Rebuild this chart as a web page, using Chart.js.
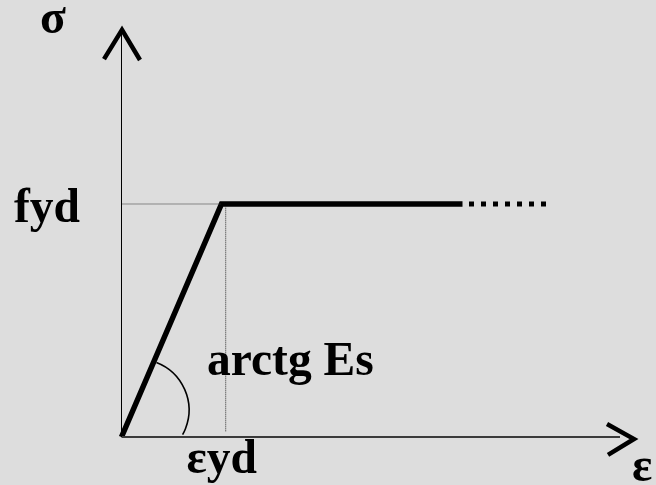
<!DOCTYPE html>
<html>
<head>
<meta charset="utf-8">
<script src="https://cdn.jsdelivr.net/npm/chart.js@4/dist/chart.umd.min.js"></script>
<style>
html,body{margin:0;padding:0;background:#dddddd;}
canvas{display:block;}
</style>
</head>
<body>
<canvas id="c" width="656" height="485"></canvas>
<script>
// Elastic-perfectly-plastic steel diagram (units: εyd = 1, fyd = 1)
const strain = [0, 1, 3.41];          // ε values of solid curve
const stress = [0, 1, 1];             // σ values of solid curve
const plateauDotted = [3.475, 4.245]; // ε range of dotted continuation (σ = fyd)
const epsYd = 1, fyd = 1;
const guideEps = 1.042;
const labels = { sigma: 'σ', eps: 'ε', fyd: 'fyd', epsYd: 'εyd', slope: 'arctg Es' };

const xAxisEnd = 4.985, yAxisEnd = 1.747;
const yArrowX = [-0.175, 0.005, 0.185], yArrowY = [1.622, 1.747, 1.618];
const xArrowX = [4.855, 5.125, 4.865], xArrowY = [0.056, -0.0086, -0.077];

const pts = (xs, ys) => xs.map((x, i) => ({x, y: ys[i]}));

const overlay = {
  id: 'overlay',
  afterDatasetsDraw(chart) {
    const {ctx, scales: {x, y}} = chart;
    ctx.save();
    // angle arc
    ctx.beginPath();
    ctx.lineWidth = 1.6;
    ctx.strokeStyle = '#000';
    const cx = x.getPixelForValue(0.165), cy = y.getPixelForValue(0.116);
    const r = x.getPixelForValue(0.51) - x.getPixelForValue(0);
    ctx.arc(cx, cy, r, -68.8 * Math.PI / 180, 29 * Math.PI / 180);
    ctx.stroke();
    // labels
    ctx.fillStyle = '#000';
    ctx.textBaseline = 'alphabetic';
    ctx.textAlign = 'left';
    ctx.font = 'bold 47.5px "Liberation Serif", "Times New Roman", serif';
    const y0 = y.getPixelForValue(0);
    ctx.fillText(labels.sigma, 40, 33);
    ctx.fillText(labels.fyd, 14, y.getPixelForValue(fyd) + 18);
    ctx.fillText(labels.slope, 207, 375);
    ctx.fillText(labels.epsYd, x.getPixelForValue(epsYd) - 35, y0 + 36);
    ctx.fillText(labels.eps, 632, 481);
    ctx.restore();
  }
};

new Chart(document.getElementById('c'), {
  type: 'scatter',
  data: {
    datasets: [
      { data: pts([0, 0], [yAxisEnd, 0]), showLine: true, borderColor: '#000', borderWidth: 1, pointRadius: 0 },
      { data: pts([0, xAxisEnd], [0, 0]), showLine: true, borderColor: '#3a3a3a', borderWidth: 2, pointRadius: 0 },
      { data: pts(yArrowX, yArrowY), showLine: true, borderColor: '#000', borderWidth: 4.5, pointRadius: 0, borderJoinStyle: 'miter' },
      { data: pts(xArrowX, xArrowY), showLine: true, borderColor: '#000', borderWidth: 4.5, pointRadius: 0, borderJoinStyle: 'miter' },
      { data: pts([0, epsYd], [fyd, fyd]), showLine: true, borderColor: '#333', borderWidth: 1, borderDash: [1, 1], pointRadius: 0 },
      { data: pts([guideEps, guideEps], [fyd - 0.01, 0.02]), showLine: true, borderColor: '#333', borderWidth: 1, borderDash: [1, 1], pointRadius: 0 },
      { data: pts(strain, stress), showLine: true, borderColor: '#000', borderWidth: 5.5, pointRadius: 0, borderJoinStyle: 'miter', borderCapStyle: 'butt' },
      { data: pts(plateauDotted, [fyd, fyd]), showLine: true, borderColor: '#000', borderWidth: 5, borderDash: [5, 7], borderCapStyle: 'butt', pointRadius: 0 }
    ]
  },
  options: {
    responsive: false,
    animation: false,
    devicePixelRatio: 1,
    layout: { padding: 0 },
    plugins: { legend: { display: false }, tooltip: { enabled: false } },
    scales: {
      x: { type: 'linear', display: false, min: -1.215, max: 5.345 },
      y: { type: 'linear', display: false, min: -0.206, max: 1.8755 }
    }
  },
  plugins: [overlay]
});
</script>
</body>
</html>
